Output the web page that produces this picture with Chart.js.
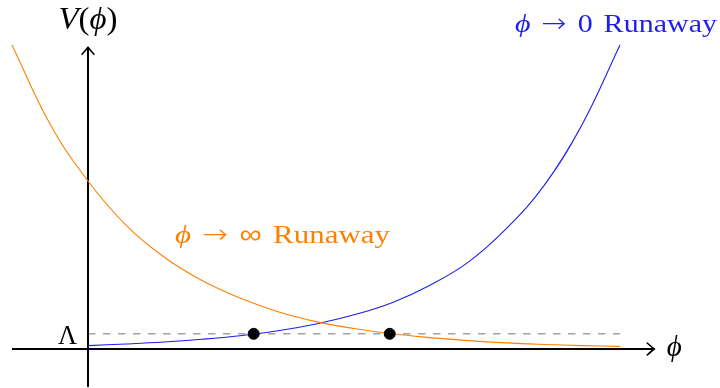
<!DOCTYPE html>
<html>
<head>
<meta charset="utf-8">
<script src="https://cdn.jsdelivr.net/npm/chart.js@4"></script>
<style>
  html, body { margin: 0; padding: 0; background: #fff; }
  canvas { display: block; }
</style>
</head>
<body>
<canvas id="myChart" width="720" height="388"></canvas>
<script>
// field values (phi) and the two potentials V(phi)
const phiInf = [-1, -0.5, 0, 0.5, 1, 1.5, 2, 2.5, 3, 3.5, 4, 4.5, 5, 5.5, 6, 6.5, 7];
const vInf = [4.0, 2.96, 2.21, 1.63, 1.21, 0.90, 0.67, 0.49, 0.36, 0.27, 0.20, 0.15, 0.11, 0.08, 0.06, 0.045, 0.034];
const phiZero = [0, 0.5, 1, 1.5, 2, 2.5, 3, 3.5, 4, 4.5, 5, 5.5, 6, 6.5, 7];
const vZero = [0.045, 0.066, 0.092, 0.128, 0.175, 0.24, 0.33, 0.45, 0.61, 0.84, 1.14, 1.58, 2.15, 2.95, 4.0];
// cosmological constant level and where each curve hits it
const lambdaLevel = 0.2;
const lambdaSpan = [0, 7];
const vacua = [2.18, 3.97];
// axis extents
const xAxisSpan = [-1, 7.45];
const yAxisSpan = [-0.5, 3.97];

const pts = (xs, ys) => xs.map((x, i) => ({x: x, y: ys[i]}));

const orange = 'rgb(255,128,0)';
const blue = 'rgb(30,30,240)';

const serif = '"Liberation Serif", "DejaVu Serif", serif';
const symbols = '"DejaVu Sans", sans-serif';

function runFont(r, size) {
    const style = r[1] ? 'italic ' : '';
    const weight = r[2] ? '200 ' : '';
    return style + weight + size + 'px ' + (r[2] || serif);
}

// draws a line of italic/upright pieces filling a given width:
// spaces are widened a bit, then the whole line is stretched
function drawRuns(ctx, runs, x, y, size, color, align, width) {
    ctx.save();
    ctx.fillStyle = color;
    ctx.textBaseline = 'alphabetic';
    ctx.textAlign = 'left';
    let total = 0, spaces = 0;
    runs.forEach(r => {
        ctx.font = runFont(r, size);
        total += ctx.measureText(r[0]).width;
        spaces += r[0].split(' ').length - 1;
    });
    let sx = 1, bonus = 0;
    if (width) {
        if (spaces) bonus = Math.min((width - total) * 0.5 / spaces, 3);
        sx = width / (total + spaces * bonus);
    }
    const w = width || total;
    const left = align === 'center' ? x - w / 2 : align === 'right' ? x - w : x;
    ctx.translate(left, y);
    ctx.scale(sx, 1);
    let cx = 0;
    runs.forEach(r => {
        ctx.font = runFont(r, size);
        [...r[0]].forEach(ch => {
            ctx.fillText(ch, cx, 0);
            cx += ctx.measureText(ch).width + (ch === ' ' ? bonus : 0);
        });
    });
    ctx.restore();
}

function arrowHead(ctx, x, y, dir) {
    ctx.save();
    ctx.translate(x, y);
    if (dir === 'up') ctx.rotate(-Math.PI / 2);
    ctx.strokeStyle = '#000';
    ctx.lineWidth = 1.6;
    ctx.lineCap = 'round';
    ctx.beginPath();
    ctx.moveTo(-7, -6);
    ctx.quadraticCurveTo(-2, -1.5, 0, 0);
    ctx.quadraticCurveTo(-2, 1.5, -7, 6);
    ctx.stroke();
    ctx.restore();
}

const labels = {
    id: 'labels',
    afterDatasetsDraw(chart) {
        const ctx = chart.ctx;
        const xs = chart.scales.x, ys = chart.scales.y;
        const x0 = xs.getPixelForValue(0), y0 = ys.getPixelForValue(0);

        arrowHead(ctx, xs.getPixelForValue(xAxisSpan[1]), y0, 'right');
        arrowHead(ctx, x0, ys.getPixelForValue(yAxisSpan[1]), 'up');

        drawRuns(ctx, [['V', true], ['(', false], ['ϕ', true], [')', false]], x0, 29, 31, '#000', 'center', 59);
        drawRuns(ctx, [['ϕ', true]], xs.getPixelForValue(xAxisSpan[1]) + 20, y0 + 7, 29, '#000', 'center');
        drawRuns(ctx, [['Λ', false]], x0 - 11, ys.getPixelForValue(lambdaLevel) + 10, 27, '#000', 'right', 19);

        drawRuns(ctx, [['ϕ', true], [' ', false], ['→', false, symbols], [' 0 Runaway', false]],
            717, 32, 26, blue, 'right', 202);
        drawRuns(ctx, [['ϕ', true], [' ', false], ['→', false, symbols], [' ', false], ['∞', false, symbols], [' Runaway', false]],
            175, 243, 26, orange, 'left', 215);
    }
};

const ctx = document.getElementById('myChart').getContext('2d');
const myChart = new Chart(ctx, {
    type: 'scatter',
    data: {
        datasets: [
            {
                label: 'vacua',
                data: vacua.map(x => ({x: x, y: lambdaLevel})),
                backgroundColor: '#000',
                borderColor: '#000',
                pointRadius: 5.5,
                order: 0
            },
            {
                label: 'phi to infinity',
                data: pts(phiInf, vInf),
                showLine: true,
                borderColor: orange,
                borderWidth: 1.1,
                pointRadius: 0,
                tension: 0.4,
                order: 1
            },
            {
                label: 'phi to zero',
                data: pts(phiZero, vZero),
                showLine: true,
                borderColor: blue,
                borderWidth: 1.1,
                pointRadius: 0,
                tension: 0.4,
                order: 1
            },
            {
                label: 'Lambda',
                data: pts(lambdaSpan, [lambdaLevel, lambdaLevel]),
                showLine: true,
                borderColor: '#a2a2a2',
                borderWidth: 1.4,
                borderDash: [7.5, 7.5],
                pointRadius: 0,
                order: 3
            },
            {
                label: 'x axis',
                data: pts(xAxisSpan, [0, 0]),
                showLine: true,
                borderColor: '#000',
                borderWidth: 2,
                pointRadius: 0,
                order: 2
            },
            {
                label: 'y axis',
                data: pts([0, 0], yAxisSpan),
                showLine: true,
                borderColor: '#000',
                borderWidth: 2,
                pointRadius: 0,
                order: 2
            }
        ]
    },
    options: {
        responsive: false,
        animation: false,
        layout: { padding: 0, autoPadding: false },
        scales: {
            x: { type: 'linear', min: -88 / 76, max: 632 / 76, display: false },
            y: { type: 'linear', min: -39 / 76, max: 349 / 76, display: false }
        },
        plugins: {
            legend: { display: false },
            tooltip: { enabled: false }
        }
    },
    plugins: [labels]
});
</script>
</body>
</html>
